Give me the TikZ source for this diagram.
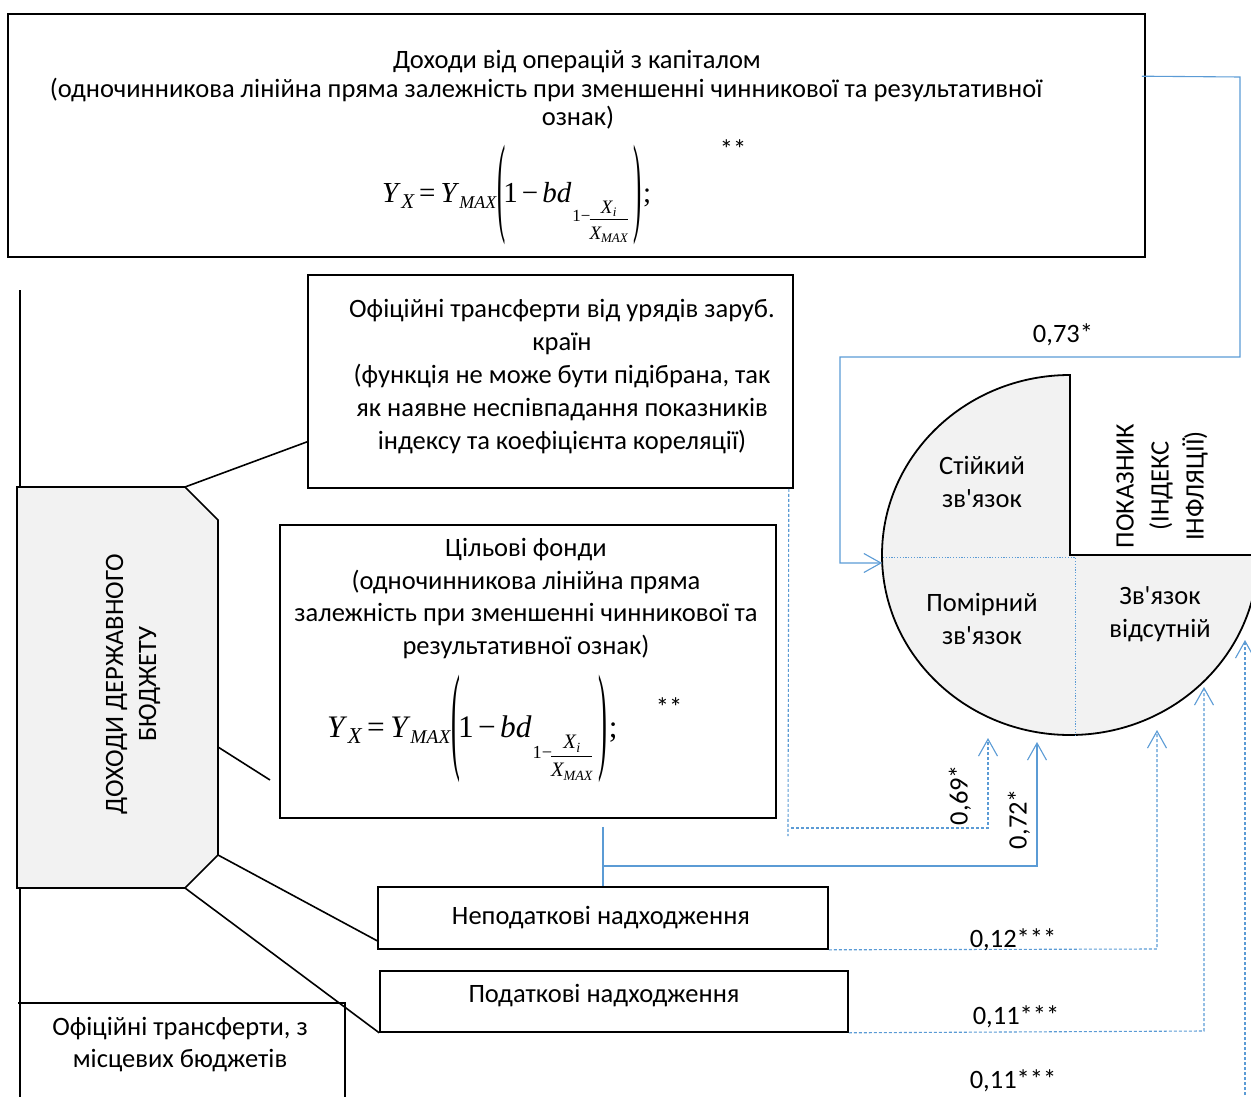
\documentclass[tikz,border=0pt]{standalone}
\usepackage{fontspec}
\usepackage{graphicx}
\setmainfont{Carlito}
\newfontfamily\tnr{Liberation Serif}
\usetikzlibrary{arrows.meta,calc}
\definecolor{lnblue}{RGB}{91,155,213}
\definecolor{fillgray}{RGB}{242,242,242}
% tall thin parentheses
\newcommand{\tallL}{\raisebox{-19pt}{\scalebox{0.85}[3.8]{(}}}
\newcommand{\tallR}{\raisebox{-19pt}{\scalebox{0.85}[3.8]{)}}}
% small fraction X_i / X_MAX (baseline = X_MAX baseline)
\newcommand{\ffrac}{\begingroup\fontsize{19}{19}\selectfont
  \setbox0\hbox{\itshape X\raisebox{-3pt}{\fontsize{13}{13}\selectfont MAX}}%
  \setbox1\hbox{\itshape X\kern0.5pt\raisebox{-3pt}{\fontsize{13}{13}\selectfont i}}%
  \rlap{\raisebox{26pt}{\makebox[\wd0]{\box1}}}%
  \rlap{\rule[19pt]{\wd0}{0.8pt}}%
  \box0\endgroup}
\newcommand{\capformula}{{\tnr\fontsize{29}{29}\selectfont
  \textit{Y}\kern0.5pt\raisebox{-6pt}{\fontsize{21}{21}\selectfont\itshape X}%
  \kern5pt=\kern5pt%
  \textit{Y}\raisebox{-6pt}{\fontsize{18}{18}\selectfont\itshape MAX}%
  \kern1pt\tallL\kern-2pt 1\kern4pt−\kern4pt\textit{bd}\kern1pt%
  \raisebox{-20pt}{\fontsize{17}{17}\selectfont 1−\kern-1pt\raisebox{-17pt}{\ffrac}}%
  \kern6pt\tallR\kern1pt;}}
\begin{document}
\begin{tikzpicture}[x=1pt,y=-1pt,
  box/.style={draw=black, line width=1.6pt, inner sep=0pt},
  txt/.style={font=\fontsize{26.5}{33}\selectfont, align=center, inner sep=0pt},
  conn/.style={draw=black, line width=1.6pt},
  bluesolid/.style={draw=lnblue, line width=1.1pt},
  bluedash/.style={draw=lnblue, line width=1.1pt, dash pattern=on 3pt off 2pt},
  bluedot/.style={draw=lnblue, line width=0.9pt, dash pattern=on 1.2pt off 1.6pt},
  tip/.style={-{Straight Barb[length=17pt,width=19pt,line width=1.1pt]}}]
\useasboundingbox (0,0) rectangle (1251,1097);
\clip (0,0) rectangle (1251,1097);

% ---------- top box ----------
\node[box, minimum width=1137pt, minimum height=243pt] (capbox) at (576.5,135.5) {};
\node[txt] (cap1) at (577,62) {Доходи від операцій з капіталом};
\node[txt] (cap2) at (546,90) {(одночинникова лінійна пряма залежність при зменшенні чинникової та результативної};
\node[txt] (cap3) at (578,118) {ознак)};
\node[txt] (capst) at (733,149) {**};
\node[inner sep=0pt, anchor=base west] (capf) at (382,202) {\capformula};

% ---------- box 2 ----------
\node[box, minimum width=485pt, minimum height=213pt] (box2) at (550.5,381.5) {};
\node[txt] (box2t) at (562,377) {Офіційні трансферти від урядів заруб.\\країн\\ (функція не може бути підібрана, так\\як наявне неспівпадання показників\\індексу та коефіцієнта кореляції)};

% ---------- box 3 ----------
\node[box, minimum width=496pt, minimum height=293pt] (box3) at (528,671.5) {};
\node[txt, font=\fontsize{26.5}{32.5}\selectfont] (box3t) at (526,598.5) {Цільові фонди\\(одночинникова лінійна пряма\\залежність при зменшенні чинникової та\\результативної ознак)};
\node[inner sep=0pt, anchor=base west] (box3f) at (327,737) {\scalebox{1.08}{\capformula}};
\node[txt] (box3st) at (669,707) {**};

% ---------- budget octagon ----------
\coordinate (oTL) at (17,487);
\coordinate (oTR) at (185,487);
\coordinate (oRT) at (218,520);
\coordinate (oRB) at (218,855);
\coordinate (oBR) at (185,888);
\coordinate (oBL) at (17,888);
\filldraw[fill=fillgray, draw=black, line width=1.6pt] (oTL) -- (oTR) -- (oRT) -- (oRB) -- (oBR) -- (oBL) -- cycle;
\node[txt, rotate=90] (budget) at (133,684) {ДОХОДИ ДЕРЖАВНОГО\\БЮДЖЕТУ};
\draw[conn] (20,290) -- (20,487);
\draw[conn] (20,888) -- (20,1100);

% ---------- small boxes ----------
\node[box, minimum width=450pt, minimum height=62pt] (nontax) at (603,918) {};
\node[txt] (nontaxt) at (601,918) {Неподаткові надходження};
\node[box, minimum width=468pt, minimum height=61pt] (tax) at (614,1001.5) {};
\node[txt] (taxt) at (604,996) {Податкові надходження};
\draw[conn] (18,1003) -- (345,1003) -- (345,1100);
\node[txt, font=\fontsize{26.5}{32}\selectfont] (localt) at (180,1045) {Офіційні трансферти, з\\місцевих бюджетів};

% ---------- black connectors ----------
\coordinate (box3near) at (270,780);
\coordinate (oRM) at (218,747);
\draw[conn] (oTR) -- ($(box2.south west)+(0,-47)$);
\draw[conn] (oRM) -- (box3near);
\draw[conn] (oRB) -- ($(nontax.south west)+(0,-9)$);
\draw[conn] (oBR) -- (tax.south west);

% ---------- indicator circle ----------
\begin{scope}
  \clip (0,0) rectangle (1070,1097) (1070,555) rectangle (1300,1097);
  \filldraw[fill=fillgray, draw=black, line width=1.8pt] (1070,555) ellipse [x radius=188pt, y radius=180pt];
\end{scope}
\draw[black, line width=1.8pt] (1070,374) -- (1070,555) -- (1260,555);
\draw[bluedot] (883,557) -- (1075,557) -- (1075,735);
\node[txt] (strong) at (982,482) {Стійкий\\зв\textquotesingle язок};
\node[txt] (moderate) at (982,619) {Помірний\\зв\textquotesingle язок};
\node[txt] (none) at (1160,614) {Зв\textquotesingle язок\\відсутній};
\node[txt, rotate=90, font=\fontsize{26.5}{35}\selectfont] (indic) at (1162,486) {ПОКАЗНИК\\(ІНДЕКС\\ІНФЛЯЦІЇ)};

\coordinate (cL) at (882,563);
\coordinate (c69) at (988,738);
\coordinate (c72) at (1037,742);
\coordinate (c12) at (1157,730);
\coordinate (c11a) at (1204,687);
\coordinate (c11b) at (1245,640);

% ---------- blue connectors ----------
\draw[bluesolid, tip] ($(capbox.north east)+(-4,63)$) -- (1240,77) -- (1240,357) -- (840,357) -- (840,563) -- (cL);
\node[txt] (l73) at (1063,335) {0,73*};

\draw[bluedash] ($(box2.south east)+(-5,0)$) -- (788,836);
\draw[bluedash, tip] (791,828) -- (988,828) -- (c69);
\node[txt, rotate=90] (l69) at (960,795) {0,69*};

\draw[bluesolid] ($(box3.south)+(75,8)$) -- (nontax.north -| 603,0);
\draw[bluesolid, tip] (603,866) -- (1037,866) -- (c72);
\node[txt, rotate=90] (l72) at (1019,819) {0,72*};

\draw[bluedash, tip] (nontax.south east) -- (1157,949) -- (c12);
\node[txt] (l12) at (1013,940) {0,12***};

\draw[bluedash, tip] (tax.south east) -- (1204,1031) -- (c11a);
\node[txt] (l11a) at (1016,1017) {0,11***};

\draw[bluedash, tip] (1245,1100) -- (c11b);
\node[txt] (l11b) at (1013,1081) {0,11***};
\end{tikzpicture}
\end{document}
